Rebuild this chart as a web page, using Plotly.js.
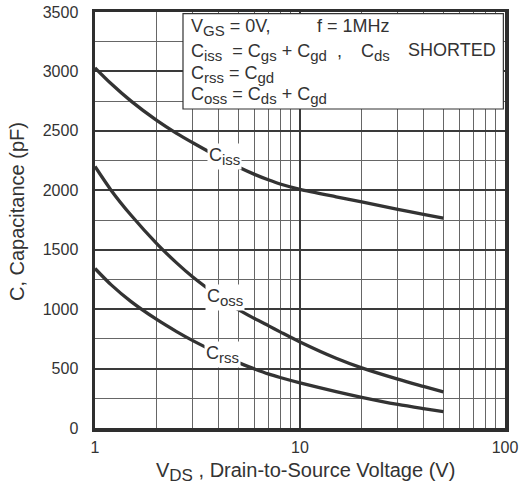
<!DOCTYPE html>
<html>
<head>
<meta charset="utf-8">
<script src="https://cdn.plot.ly/plotly-3.0.1.min.js"></script>
<style>
html,body{margin:0;padding:0;background:#fff;}
#chart{width:521px;height:489px;}
</style>
</head>
<body>
<div id="chart"></div>
<script>
// Drain-to-source voltage (V)
const vds  = [1, 1.2, 1.5, 2, 2.5, 3, 4, 5, 6, 7, 8, 10, 15, 20, 30, 40, 50];
// Capacitances (pF)
const ciss = [3030, 2896, 2750, 2588, 2479, 2400, 2281, 2196, 2134, 2088, 2053, 2008, 1945, 1902, 1840, 1797, 1765];
const coss = [2200, 1999, 1790, 1552, 1389, 1270, 1108, 996, 921, 861, 809, 724, 587, 506, 411, 350, 304];
const crss = [1342, 1204, 1063, 913, 811, 735, 627, 550, 497, 455, 425, 380, 306, 258, 198, 163, 138];

const yTicks = [0, 500, 1000, 1500, 2000, 2500, 3000, 3500];
const xTicks = [1, 10, 100];
const xMinor = [2,3,4,5,6,7,8,9,20,30,40,50,60,70,80,90];

const ink = '#333333';
const FONT = 'Liberation Sans, Arial, sans-serif';

function sub(t, size){ return '<sub><span style="font-size:' + size + 'px">' + t + '</span></sub>'; }

function curve(y){
  return {x: vds, y: y, type: 'scatter', mode: 'lines',
    line: {color: ink, width: 3.3, shape: 'spline', smoothing: 0.8},
    hoverinfo: 'skip', showlegend: false};
}

const traces = [curve(ciss), curve(coss), curve(crss)];

function boxText(text, xpx, ypx){
  return {text: text, xref: 'paper', yref: 'paper',
    x: (xpx - 95) / 410, y: (428 - ypx) / 416,
    xanchor: 'left', yanchor: 'middle', showarrow: false,
    font: {family: FONT, size: 18, color: ink}};
}
function curveLabel(text, v, c){
  return {text: text, x: Math.log10(v), y: c, xref: 'x', yref: 'y',
    xanchor: 'center', yanchor: 'middle', showarrow: false,
    bgcolor: '#ffffff', borderpad: 1,
    font: {family: FONT, size: 18, color: ink}};
}

const layout = {
  width: 521, height: 489,
  margin: {l: 95, r: 16, t: 12, b: 61},
  paper_bgcolor: '#ffffff', plot_bgcolor: '#ffffff',
  showlegend: false,
  font: {family: FONT, color: ink, size: 16},
  xaxis: {
    type: 'log', range: [0, 2],
    tickmode: 'array', tickvals: xTicks, ticktext: xTicks.map(String),
    ticks: '', ticklen: 0, ticklabelstandoff: 2,
    showgrid: true, gridcolor: '#3a3a3a', gridwidth: 2,
    minor: {tickmode: 'array', tickvals: xMinor, showgrid: true, gridcolor: '#666666', gridwidth: 1, ticks: ''},
    showline: true, linecolor: '#2e2e2e', linewidth: 3.5, mirror: true,
    zeroline: false, tickfont: {family: FONT, size: 16, color: ink}
  },
  yaxis: {
    range: [0, 3500],
    tickmode: 'array', tickvals: yTicks, ticktext: yTicks.map(String),
    ticks: '', ticklabelstandoff: 10,
    showgrid: true, gridcolor: '#3a3a3a', gridwidth: 2,
    minor: {dtick: 250, showgrid: true, gridcolor: '#666666', gridwidth: 1, ticks: ''},
    showline: true, linecolor: '#2e2e2e', linewidth: 3.5, mirror: true,
    zeroline: false, tickfont: {family: FONT, size: 16, color: ink}
  },
  shapes: [{
    type: 'rect', xref: 'paper', yref: 'paper',
    x0: (183 - 95) / 410, x1: 0.996, y0: (428 - 109) / 416, y1: 0.996,
    fillcolor: '#ffffff', line: {color: ink, width: 1.2}, layer: 'above'
  }],
  annotations: [
    curveLabel('C' + sub('iss', 15), 4.26, 2285),
    curveLabel('C' + sub('oss', 15), 4.3, 1100),
    curveLabel('C' + sub('rss', 15), 4.2, 615),
    boxText('V' + sub('GS', 15) + ' = 0V,', 189, 28),
    boxText('f = 1MHz', 315, 26),
    boxText('C' + sub('iss', 15) + '  = C' + sub('gs', 15) + ' + C' + sub('gd', 15) + '  ,', 189, 52),
    boxText('C' + sub('ds', 15), 359, 52),
    boxText('SHORTED', 406, 50),
    boxText('C' + sub('rss', 15) + ' = C' + sub('gd', 15), 189, 74),
    boxText('C' + sub('oss', 15) + ' = C' + sub('ds', 15) + ' + C' + sub('gd', 15), 189, 96),
    {text: 'C, Capacitance (pF)', xref: 'paper', yref: 'paper',
     x: (17 - 95) / 410, y: (428 - 212) / 416, textangle: -90,
     xanchor: 'center', yanchor: 'middle', showarrow: false,
     font: {family: FONT, size: 20, color: ink}},
    {text: 'V' + sub('DS', 17) + ' , Drain-to-Source Voltage (V)', xref: 'paper', yref: 'paper',
     x: (305 - 95) / 410, y: (428 - 472) / 416,
     xanchor: 'center', yanchor: 'middle', showarrow: false,
     font: {family: FONT, size: 20, color: ink}}
  ]
};

Plotly.newPlot('chart', traces, layout, {displayModeBar: false, staticPlot: true});
</script>
</body>
</html>
